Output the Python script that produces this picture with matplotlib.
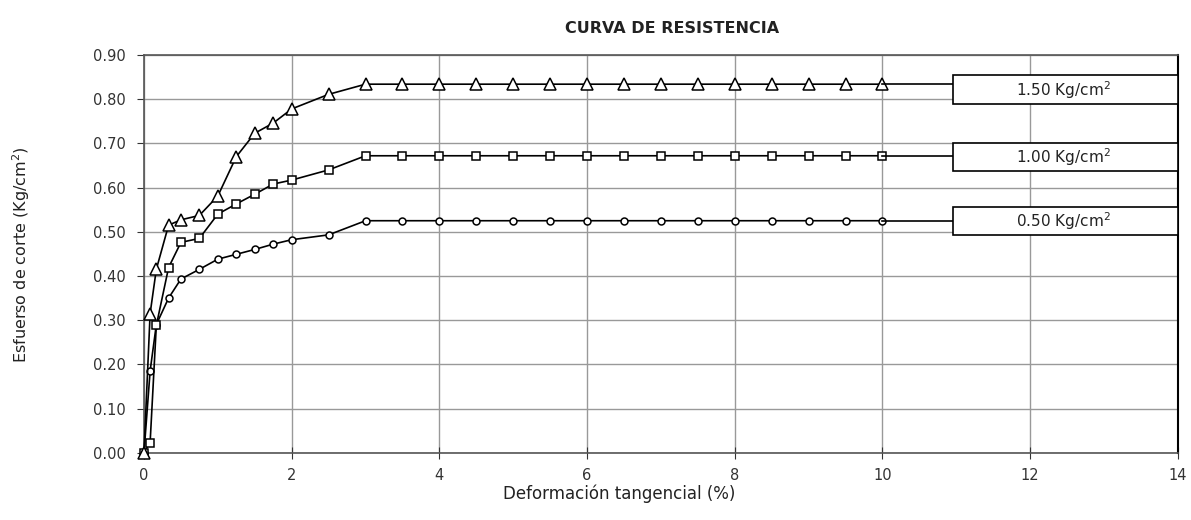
import numpy as np
import matplotlib.pyplot as plt
from matplotlib.patches import Rectangle

# Data
x_ini = [0, 0.083, 0.167, 0.333, 0.5, 0.75, 1.0, 1.25, 1.5, 1.75, 2.0, 2.5]
x_plateau = [3.0, 3.5, 4.0, 4.5, 5.0, 5.5, 6.0, 6.5, 7.0, 7.5, 8.0, 8.5, 9.0, 9.5, 10.0]

y_050_ini = [0, 0.185, 0.29, 0.35, 0.393, 0.415, 0.438, 0.449, 0.46, 0.472, 0.482, 0.493]
y_100_ini = [0, 0.023, 0.288, 0.419, 0.476, 0.485, 0.54, 0.563, 0.585, 0.608, 0.617, 0.64]
y_150_ini = [0, 0.315, 0.415, 0.515, 0.527, 0.537, 0.581, 0.67, 0.723, 0.746, 0.778, 0.811]
plateau_050 = 0.525
plateau_100 = 0.672
plateau_150 = 0.834

labels = ['0.50 Kg/cm$^2$', '1.00 Kg/cm$^2$', '1.50 Kg/cm$^2$']

x = np.array(x_ini + x_plateau)
series = [
    (y_050_ini + [plateau_050] * len(x_plateau), 'o', 5, labels[0], 0.493),
    (y_100_ini + [plateau_100] * len(x_plateau), 's', 5.5, labels[1], 0.638),
    (y_150_ini + [plateau_150] * len(x_plateau), '^', 8, labels[2], 0.790),
]

fig = plt.figure(figsize=(11.91, 5.2), dpi=100)
ax = fig.add_axes([0.1209, 0.1294, 0.8681, 0.7648])

for y, m, ms, lab, box_y in series:
    ax.plot(x, y, color='black', linewidth=1.2, marker=m, markersize=ms,
            markerfacecolor='white', markeredgecolor='black', markeredgewidth=1.1,
            clip_on=False, zorder=3)
    # leader line and label box
    ax.plot([x[-1], 10.95], [y[-1], y[-1]], color='black', linewidth=1.2, zorder=3)
    ax.add_patch(Rectangle((10.95, box_y), 3.05, 0.064, facecolor='white',
                           edgecolor='black', linewidth=1.2, clip_on=False, zorder=4))
    ax.text(12.45, box_y + 0.031, lab, ha='center', va='center', fontsize=11,
            color='#222222', zorder=5)

ax.set_xlim(0, 14)
ax.set_ylim(0, 0.9)
ax.set_xticks(np.arange(0, 15, 2))
ax.set_yticks(np.arange(0, 0.91, 0.1))
ax.set_yticklabels([f'{v:.2f}' for v in np.arange(0, 0.91, 0.1)])
ax.grid(True, color='#999999', linewidth=1.0)
ax.set_axisbelow(True)
ax.tick_params(axis='x', direction='inout', length=8, labelsize=10.5,
               colors='#333333', pad=7)
ax.tick_params(axis='y', direction='out', length=5, labelsize=10.5,
               colors='#333333', pad=8)
for s in ['left', 'bottom', 'top']:
    ax.spines[s].set_color('#555555')
    ax.spines[s].set_linewidth(1.2)
ax.spines['right'].set_color('black')
ax.spines['right'].set_linewidth(1.5)

fig.text(0.564, 0.945, 'CURVA DE RESISTENCIA', ha='center', va='center',
         fontsize=11.5, fontweight='bold', color='#222222')
fig.text(0.52, 0.05, 'Deformación tangencial (%)', ha='center', va='center',
         fontsize=12, color='#222222')
fig.text(0.018, 0.51, 'Esfuerso de corte (Kg/cm$^2$)', ha='center', va='center',
         rotation=90, fontsize=11.5, color='#222222')

fig.savefig('out.png', dpi=100)
